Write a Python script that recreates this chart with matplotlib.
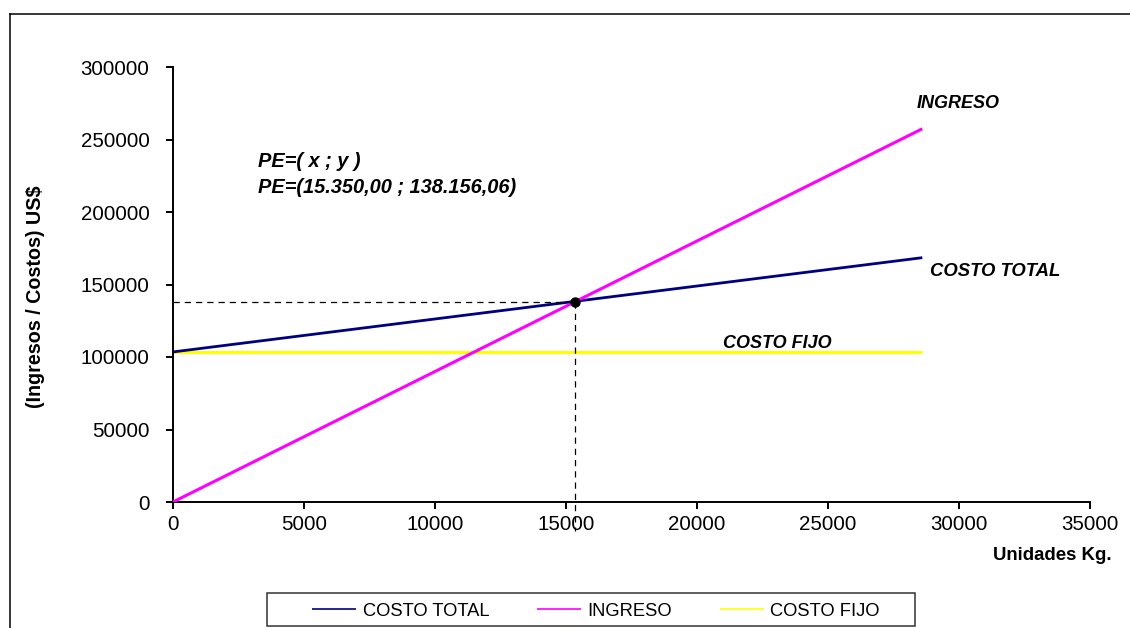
import matplotlib
matplotlib.use("Agg")
import matplotlib.pyplot as plt
from matplotlib.lines import Line2D
from matplotlib.patches import Rectangle
from matplotlib.ticker import MultipleLocator, FuncFormatter

plt.rcParams['font.family'] = ['Liberation Sans', 'DejaVu Sans']

# Break-even analysis data
unidades = [0, 28600]
costo_total = [103500, 168500]
ingreso = [0, 257400]
costo_fijo = [103500, 103500]
pe_x = 15350.00
pe_y = 138156.06

series_names = ["COSTO TOTAL", "INGRESO", "COSTO FIJO"]
series_colors = ["#000080", "#FF00FF", "#FFFF00"]

W, H = 1130, 628
fig = plt.figure(figsize=(W / 100, H / 100), dpi=100)
ax = fig.add_axes([173 / W, 1 - 502 / H, (1090 - 173) / W, (502 - 67) / H])

h1, = ax.plot(unidades, costo_total, color=series_colors[0], lw=2.0, solid_capstyle='butt', zorder=3)
h2, = ax.plot(unidades, ingreso, color=series_colors[1], lw=2.2, solid_capstyle='butt', zorder=3)
h3, = ax.plot(unidades, costo_fijo, color=series_colors[2], lw=2.2, solid_capstyle='butt', zorder=2)

# Break-even guides
ax.plot([0, pe_x], [pe_y, pe_y], color='black', lw=0.9, ls=(0, (5, 4)), zorder=4)
ax.plot([pe_x, pe_x], [pe_y, -20000], color='black', lw=0.9, ls=(0, (5, 4)),
        clip_on=False, zorder=4)
ax.plot([pe_x], [pe_y], 'o', color='black', ms=6.5, zorder=5)

ax.set_xlim(0, 35000)
ax.set_ylim(0, 300000)
ax.xaxis.set_major_locator(MultipleLocator(5000))
ax.yaxis.set_major_locator(MultipleLocator(50000))
fmt = FuncFormatter(lambda v, p: f"{int(v)}")
ax.xaxis.set_major_formatter(fmt)
ax.yaxis.set_major_formatter(fmt)

for s in ('top', 'right'):
    ax.spines[s].set_visible(False)
for s in ('left', 'bottom'):
    ax.spines[s].set_linewidth(1.4)
ax.tick_params(axis='both', direction='out', length=5, width=1.4, labelsize=14.8)
ax.tick_params(axis='y', pad=12)
ax.tick_params(axis='x', pad=4)

ax.set_ylabel("(Ingresos / Costos) US$", fontsize=14.2, fontweight='bold')
ax.yaxis.set_label_coords((45 - 173) / 917, (502 - 297) / 435)
fig.text(1112 / W, 1 - 556 / H, "Unidades Kg.", ha='right', va='center',
         fontsize=13.4, fontweight='bold')

# Series annotations
lab = dict(fontweight='bold', style='italic', va='center', ha='left')
ax.text(28396, 275172, "INGRESO", fontsize=13, **lab)
ax.text(28893, 159310, "COSTO TOTAL", fontsize=13.3, **lab)
ax.text(20992, 109655, "COSTO FIJO", fontsize=13, **lab)
ax.text(3244, 234483, "PE=( x ; y )", fontsize=14.4, **lab)
ax.text(3244, 217241, "PE=(15.350,00 ; 138.156,06)", fontsize=14.4, **lab)

# Legend with its own frame
leg = fig.legend([h1, h2, h3], series_names, loc='center',
                 bbox_to_anchor=(596 / W, 1 - 611 / H), ncol=3, frameon=False,
                 fontsize=13.2, handlelength=2.4, handletextpad=0.35,
                 columnspacing=2.6)
for ln in leg.get_lines():
    ln.set_linewidth(1.2)
fig.add_artist(Rectangle((267 / W, 1 - 626 / H), (915 - 267) / W, (626 - 593) / H,
                         transform=fig.transFigure, fill=False,
                         edgecolor='#333333', lw=1.1))

# Outer chart border (left and top edges)
fig.add_artist(Line2D([10 / W, 10 / W], [0, 1 - 14 / H], transform=fig.transFigure,
                      color='black', lw=1.1))
fig.add_artist(Line2D([10 / W, 1], [1 - 14 / H, 1 - 14 / H], transform=fig.transFigure,
                      color='black', lw=1.1))

fig.savefig("out.png", dpi=100)
